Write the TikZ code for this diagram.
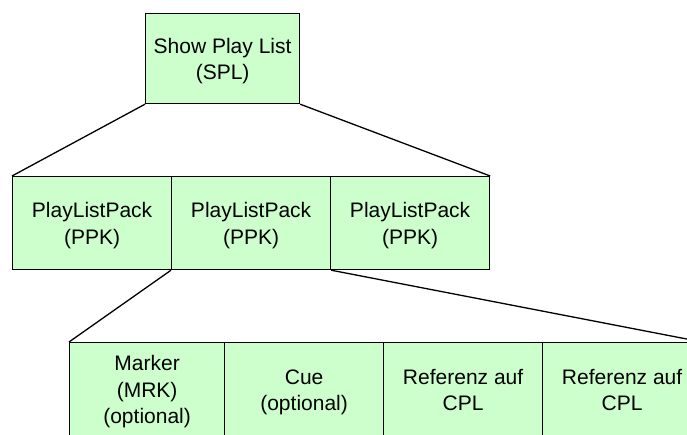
\documentclass[tikz,border=0pt]{standalone}
\usepackage{fontspec}
\setmainfont{Liberation Sans}
\definecolor{boxgreen}{HTML}{CCFFCC}
% struts that balance the first and last lines of a box label
\newcommand{\toprow}{\rule{0pt}{20pt}}
\newcommand{\lastrow}{\rule[-4.7pt]{0pt}{4.7pt}}
\begin{document}
\begin{tikzpicture}[x=1pt,y=-1pt,
  box/.style={draw=black, fill=boxgreen, line width=1.2pt, inner sep=0pt,
    align=center, anchor=north west, font=\fontsize{21}{26.5}\selectfont},
  link/.style={line width=1.3pt}]
\useasboundingbox (0,0) rectangle (687,434);
\clip (0,0) rectangle (687,434);

% top level
\node[box, minimum width=154pt, minimum height=90pt] (spl) at (145,13)
  {\toprow Show Play List\\(SPL)\lastrow};

% play list packs
\node[box, minimum width=159pt, minimum height=93pt] (ppk1) at (12,176)
  {\toprow PlayListPack\\(PPK)\lastrow};
\node[box, minimum width=159pt, minimum height=93pt] (ppk2) at (171,176)
  {\toprow PlayListPack\\(PPK)\lastrow};
\node[box, minimum width=159pt, minimum height=93pt] (ppk3) at (330,176)
  {\toprow PlayListPack\\(PPK)\lastrow};

% contents of one pack
\node[box, minimum width=155pt, minimum height=94pt] (mrk) at (69,342)
  {\toprow Marker\\(MRK)\\(optional)\lastrow};
\node[box, minimum width=159pt, minimum height=94pt] (cue) at (224,342)
  {\toprow Cue\\(optional)\lastrow};
\node[box, minimum width=159pt, minimum height=94pt] (ref1) at (383,342)
  {\toprow Referenz auf\\CPL\lastrow};
\node[box, minimum width=159pt, minimum height=94pt] (ref2) at (542,342)
  {\toprow Referenz auf\\CPL\lastrow};

% connectors
\draw[link] (spl.south west) -- (ppk1.north west);
\draw[link] (spl.south east) -- (ppk3.north east);
\draw[link] (ppk2.south west) -- (mrk.north west);
\draw[link] (ppk2.south east) -- (ref2.north east);
\end{tikzpicture}
\end{document}
